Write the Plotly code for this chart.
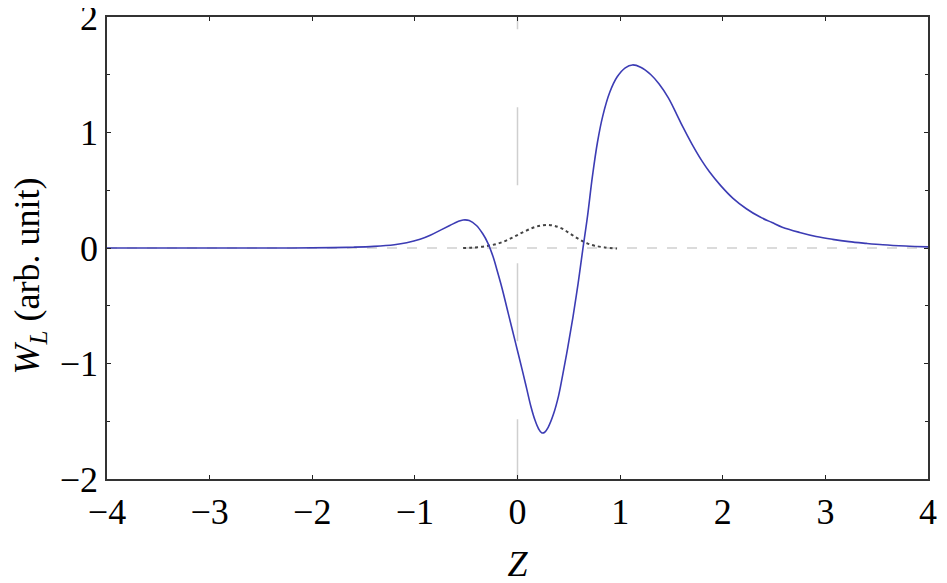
import plotly.graph_objects as go

# blue curve W_L(Z)
z_wl = [-4.0, -3.0, -2.2, -1.8, -1.6, -1.4, -1.2, -1.08, -0.95, -0.85, -0.75, -0.66, -0.58, -0.53,
        -0.47, -0.40, -0.34, -0.29, -0.24, -0.20, -0.15, -0.10, -0.05, 0.0, 0.05, 0.09, 0.13,
        0.17, 0.205, 0.235, 0.265, 0.30, 0.35, 0.40, 0.44, 0.49, 0.54, 0.59, 0.635, 0.68, 0.73,
        0.78, 0.83, 0.90, 0.97, 1.05, 1.12, 1.20, 1.30, 1.38, 1.47, 1.55, 1.61, 1.70, 1.80,
        1.87, 1.98, 2.10, 2.23, 2.36, 2.48, 2.58, 2.75, 2.91, 3.07, 3.23, 3.40, 3.56, 3.78, 4.0]
wl = [0.0, 0.0, 0.0, 0.003, 0.007, 0.014, 0.028, 0.045, 0.075, 0.11, 0.155, 0.195, 0.23, 0.243,
      0.238, 0.195, 0.125, 0.045, -0.07, -0.19, -0.35, -0.53, -0.71, -0.89, -1.07, -1.22, -1.37,
      -1.49, -1.565, -1.6, -1.595, -1.55, -1.44, -1.28, -1.1, -0.86, -0.6, -0.31, -0.02, 0.26, 0.62,
      0.92, 1.14, 1.35, 1.48, 1.56, 1.585, 1.565, 1.5, 1.42, 1.3, 1.16, 1.05, 0.9, 0.75,
      0.66, 0.54, 0.43, 0.34, 0.27, 0.22, 0.18, 0.135, 0.1, 0.075, 0.055, 0.04, 0.028, 0.017, 0.01]

# black dotted curve
z_dot = [-0.53, -0.45, -0.35, -0.25, -0.15, -0.05, 0.05, 0.15, 0.22, 0.29, 0.36, 0.44, 0.52,
         0.6, 0.68, 0.75, 0.85, 0.97]
w_dot = [0.0, 0.003, 0.01, 0.025, 0.05, 0.09, 0.135, 0.175, 0.193, 0.2, 0.192, 0.165, 0.12,
         0.075, 0.04, 0.02, 0.005, -0.005]

# guide lines
z_zero_line = [-4, 4]
w_zero_line = [0, 0]
z_vert_line = [0, 0]
w_vert_line = [2.57, -2.1]

x_ticks = [-4, -3, -2, -1, 0, 1, 2, 3, 4]
y_ticks = [-2, -1, 0, 1, 2]

serif = "Liberation Serif, Times New Roman, serif"
tick_font = dict(family=serif, size=36, color="black")

fig = go.Figure()
fig.add_trace(go.Scatter(x=z_zero_line, y=w_zero_line, mode="lines",
                         line=dict(color="#cfcfcf", width=1.5, dash="10px,10px")))
fig.add_trace(go.Scatter(x=z_vert_line, y=w_vert_line, mode="lines",
                         line=dict(color="#cfcfcf", width=1.5, dash="78px,78px")))
fig.add_trace(go.Scatter(x=z_dot, y=w_dot, mode="lines", line_shape="spline",
                         line=dict(color="#444444", width=2, dash="dot")))
fig.add_trace(go.Scatter(x=z_wl, y=wl, mode="lines", line_shape="spline",
                         line=dict(color="#3c3cb4", width=1.6)))

fig.update_xaxes(range=[-4, 4], tickvals=x_ticks, ticks="inside", ticklen=4, tickcolor="#222",
                 showline=True, linecolor="#333", linewidth=1.5, mirror="ticks",
                 showgrid=False, zeroline=False, tickfont=tick_font, ticklabeloverflow="allow",
                 automargin=False,
                 title=dict(text="<i>Z</i>", font=tick_font, standoff=20))
fig.update_yaxes(range=[-2, 2], tickvals=y_ticks, ticks="inside", ticklen=4, tickcolor="#222",
                 minor=dict(dtick=0.5, ticks="inside", ticklen=3, tickcolor="#222"),
                 showline=True, linecolor="#333", linewidth=1.5, mirror="ticks",
                 showgrid=False, zeroline=False, tickfont=tick_font, ticklabeloverflow="allow",
                 automargin=False)

fig.add_annotation(text="<i>W<sub>L</sub></i> (arb. unit)", textangle=-90,
                   xref="paper", yref="paper", x=-0.094, y=0.44, showarrow=False,
                   xanchor="center", yanchor="middle", font=tick_font)

# page body has an 8px margin, so the plot margins are shifted by that
fig.update_layout(width=947, height=583, showlegend=False,
                  margin=dict(l=99, r=27, t=9, b=112),
                  plot_bgcolor="white", paper_bgcolor="white")

fig.write_html("out.html")
